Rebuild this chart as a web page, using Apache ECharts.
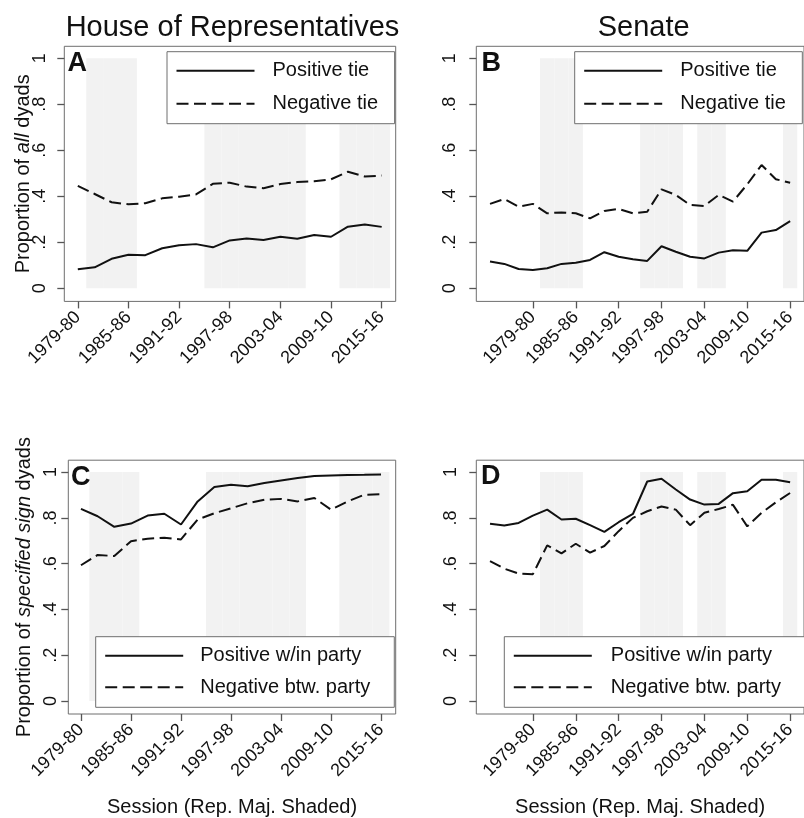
<!DOCTYPE html>
<html><head><meta charset="utf-8">
<script src="https://cdn.jsdelivr.net/npm/echarts@6/dist/echarts.min.js"></script>
<style>html,body{margin:0;padding:0;background:#fff}#c{width:804px;height:818px}</style>
</head><body><div id="c"></div>
<script>
// ---- data ----
const sessions = ['1973-74','1975-76','1977-78','1979-80','1981-82','1983-84','1985-86','1987-88','1989-90','1991-92','1993-94','1995-96','1997-98','1999-00','2001-02','2003-04','2005-06','2007-08','2009-10','2011-12','2013-14','2015-16'];
const tickSessions = ['1979-80','1985-86','1991-92','1997-98','2003-04','2009-10','2015-16'];
const yTickValues = [0, 0.2, 0.4, 0.6, 0.8, 1];
const yTickLabels = ['0', '.2', '.4', '.6', '.8', '1'];
const houseFirstSession = '1979-80';
const senateFirstSession = '1973-74';
const houseRepMajority = ['1981-82','1983-84','1985-86','1995-96','1997-98','1999-00','2001-02','2003-04','2005-06','2011-12','2013-14','2015-16'];
const senateRepMajority = ['1981-82','1983-84','1985-86','1995-96','1997-98','1999-00','2003-04','2005-06','2015-16'];

const housePositiveTie = [0.083,0.091,0.128,0.146,0.144,0.174,0.187,0.192,0.178,0.208,0.216,0.210,0.224,0.215,0.232,0.224,0.268,0.277,0.267];
const houseNegativeTie = [0.445,0.410,0.374,0.365,0.370,0.391,0.398,0.408,0.454,0.459,0.442,0.435,0.453,0.462,0.465,0.474,0.507,0.486,0.490];
const senatePositiveTie = [0.116,0.106,0.084,0.080,0.087,0.106,0.111,0.123,0.157,0.137,0.126,0.119,0.183,0.159,0.137,0.130,0.155,0.165,0.163,0.242,0.253,0.292];
const senateNegativeTie = [0.367,0.388,0.355,0.367,0.326,0.330,0.326,0.304,0.336,0.345,0.326,0.333,0.430,0.406,0.362,0.358,0.406,0.377,0.452,0.536,0.474,0.459];
const housePosWithin = [0.839,0.807,0.761,0.775,0.810,0.818,0.771,0.872,0.935,0.945,0.938,0.952,0.963,0.974,0.983,0.985,0.987,0.988,0.990];
const houseNegBetween = [0.593,0.638,0.633,0.698,0.709,0.713,0.706,0.793,0.820,0.842,0.864,0.879,0.883,0.872,0.887,0.836,0.872,0.901,0.903];
const senatePosWithin = [0.774,0.767,0.778,0.810,0.836,0.793,0.796,0.768,0.739,0.781,0.817,0.959,0.971,0.924,0.880,0.858,0.861,0.908,0.916,0.967,0.967,0.956];
const senateNegBetween = [0.611,0.578,0.557,0.554,0.680,0.645,0.687,0.648,0.677,0.742,0.800,0.829,0.850,0.836,0.768,0.822,0.839,0.857,0.763,0.822,0.868,0.909];

// ---- helpers ----
const FONT = '"Liberation Sans", Arial, Helvetica, sans-serif';
const TXT = '#111';
const FRAME = '#6e6e6e';
const TICK = '#555';
const tickIdx = tickSessions.map(s => sessions.indexOf(s));
const toPairs = (arr, first) => { const o = sessions.indexOf(first); return arr.map((v, i) => [o + i, v]); };
const shadeData = list => list.map(s => { const i = sessions.indexOf(s); return [{xAxis: i - 0.5, yAxis: 0}, {xAxis: i + 0.5, yAxis: 1}]; });
const yLabel = v => { const k = yTickValues.findIndex(t => Math.abs(t - v) < 1e-6); return k < 0 ? '' : yTickLabels[k]; };

const grids = [
  {left: 64.3, top: 46.3, width: 331.4, height: 255.1},
  {left: 476.3, top: 46.3, width: 328, height: 255.1},
  {left: 68.3, top: 460.2, width: 327.4, height: 255.1},
  {left: 476.3, top: 460.2, width: 328, height: 255.1}
].map(g => Object.assign(g, {show: true, borderColor: FRAME, borderWidth: 1, containLabel: false}));

const xRange = [[2.2, 21.83], [-0.96, 21.97], [2.24, 21.88], [-0.96, 21.97]];
const xAxes = xRange.map((r, gi) => ({
  type: 'value', gridIndex: gi, min: r[0], max: r[1],
  axisLine: {show: false, onZero: false},
  axisTick: {show: true, length: 7, lineStyle: {color: TICK, width: 1.3}, customValues: tickIdx},
  axisLabel: {rotate: 45, margin: 13, fontSize: 18, color: TXT, fontFamily: FONT, customValues: tickIdx,
    formatter: v => sessions[Math.round(v)]},
  splitLine: {show: false},
  name: gi >= 2 ? 'Session (Rep. Maj. Shaded)' : '',
  nameLocation: 'middle', nameGap: 83, nameMoveOverlap: false,
  nameTextStyle: {fontSize: 20, color: TXT, fontFamily: FONT}
}));

const yNames = ['Proportion of {i|all} dyads', '', 'Proportion of {i|specified sign} dyads', ''];
const yMargins = [15, 17, 8, 16];
const yNameGaps = [31, 0, 34, 0];
const yAxes = [0, 1, 2, 3].map(gi => ({
  type: 'value', gridIndex: gi, min: -0.057, max: 1.052, position: 'left',
  axisLine: {show: false, onZero: false},
  axisTick: {show: true, length: 7, lineStyle: {color: TICK, width: 1.3}, customValues: yTickValues},
  axisLabel: {rotate: 90, margin: yMargins[gi], fontSize: 18, color: TXT, fontFamily: FONT, customValues: yTickValues, formatter: yLabel},
  splitLine: {show: false},
  name: yNames[gi], nameLocation: 'middle', nameRotate: 90, nameGap: yNameGaps[gi], nameMoveOverlap: false,
  nameTextStyle: {fontSize: 20, color: TXT, fontFamily: FONT,
    rich: {i: {fontStyle: 'italic', fontSize: 20, color: TXT, fontFamily: FONT}}}
}));

const SOLID = 'solid';
const DASH = [12, 5.5];
const lineSeries = (name, gi, data, first, dash) => ({
  type: 'line', name, xAxisIndex: gi, yAxisIndex: gi, data: toPairs(data, first),
  symbol: 'none', showSymbol: false, z: 3, animation: false, silent: true,
  lineStyle: {color: TXT, width: 2, type: dash},
  itemStyle: {color: TXT}
});
const shadeSeries = (gi, list) => ({
  type: 'line', name: 'Rep. majority', xAxisIndex: gi, yAxisIndex: gi, data: [], z: 1, animation: false, silent: true,
  markArea: {silent: true, animation: false, itemStyle: {color: '#f2f2f2', borderWidth: 0}, data: shadeData(list)}
});

const series = [
  shadeSeries(0, houseRepMajority), shadeSeries(1, senateRepMajority),
  shadeSeries(2, houseRepMajority), shadeSeries(3, senateRepMajority),
  lineSeries('Positive tie', 0, housePositiveTie, houseFirstSession, SOLID),
  lineSeries('Negative tie', 0, houseNegativeTie, houseFirstSession, DASH),
  lineSeries('Positive tie', 1, senatePositiveTie, senateFirstSession, SOLID),
  lineSeries('Negative tie', 1, senateNegativeTie, senateFirstSession, DASH),
  lineSeries('Positive w/in party', 2, housePosWithin, houseFirstSession, SOLID),
  lineSeries('Negative btw. party', 2, houseNegBetween, houseFirstSession, DASH),
  lineSeries('Positive w/in party', 3, senatePosWithin, senateFirstSession, SOLID),
  lineSeries('Negative btw. party', 3, senateNegBetween, senateFirstSession, DASH)
];

const mkLegend = (names, left, top, textPadL, padR, gap) => ({
  orient: 'vertical', left, top, selectedMode: false,
  data: names, itemWidth: 78, itemHeight: 20, itemGap: gap,
  padding: [9, padR, 10, 8.5],
  borderColor: FRAME, borderWidth: 1, backgroundColor: '#fff',
  itemStyle: {opacity: 0, borderWidth: 0},
  textStyle: {fontSize: 20, color: TXT, fontFamily: FONT, padding: [0, 0, 0, textPadL]}
});
const legends = [
  mkLegend(['Positive tie', 'Negative tie'], 167, 51.7, 13, 16.5, 13),
  mkLegend(['Positive tie', 'Negative tie'], 574.7, 51.7, 13, 16.5, 13),
  mkLegend(['Positive w/in party', 'Negative btw. party'], 95.7, 636.7, 12, 24, 11.6),
  mkLegend(['Positive w/in party', 'Negative btw. party'], 504.3, 636.7, 14, 24, 11.6)
];

const txt = (text, x, y, size, weight, align) => ({
  type: 'text', x, y, silent: true, z: 10,
  style: {text, fill: TXT, font: (weight || 'normal') + ' ' + size + 'px ' + FONT, align: align || 'left', verticalAlign: 'middle'}
});
const graphics = [
  txt('House of Representatives', 232.5, 27.5, 29, 'normal', 'center'),
  txt('Senate', 643.7, 27.5, 29, 'normal', 'center'),
  txt('A', 67.5, 63.5, 27, 'bold'),
  txt('B', 481.5, 63.5, 27, 'bold'),
  txt('C', 71, 477.5, 27, 'bold'),
  txt('D', 481, 477, 27, 'bold')
];

const chart = echarts.init(document.getElementById('c'), null, {renderer: 'canvas'});
chart.setOption({
  animation: false,
  backgroundColor: '#fff',
  textStyle: {fontFamily: FONT},
  grid: grids, xAxis: xAxes, yAxis: yAxes, legend: legends, series, graphic: graphics
});
</script></body></html>
